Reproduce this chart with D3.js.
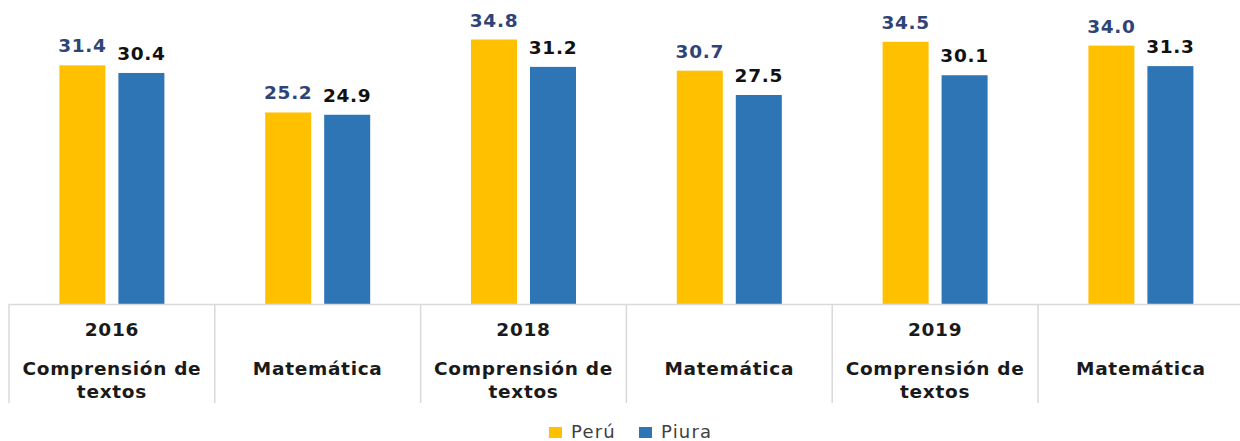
<!DOCTYPE html>
<html>
<head>
<meta charset="utf-8">
<script src="https://cdn.jsdelivr.net/npm/d3@7"></script>
<style>
  body { margin: 0; background: #fff; }
  svg { display: block; font-family: "DejaVu Sans", Verdana, sans-serif; }
</style>
</head>
<body>
<div id="chart"></div>
<script>
// data
var years = ["2016", "", "2018", "", "2019", ""];
var subjects = [["Comprensión de", "textos"], ["Matemática"], ["Comprensión de", "textos"], ["Matemática"], ["Comprensión de", "textos"], ["Matemática"]];
var series = ["Perú", "Piura"];
var peru = [31.4, 25.2, 34.8, 30.7, 34.5, 34.0];
var piura = [30.4, 24.9, 31.2, 27.5, 30.1, 31.3];

var colors = { "Perú": "#FFC000", "Piura": "#2E75B6" };
var labelColors = { "Perú": "#2F4476", "Piura": "#111111" };

var width = 1240, height = 441;
var baseY = 304;

var svg = d3.select("#chart").append("svg")
  .attr("width", width)
  .attr("height", height);

var groups = d3.range(years.length);

var x = d3.scaleBand()
  .domain(groups)
  .range([9, 9 + 6 * 205.8])
  .padding(0);

var xInner = d3.scaleBand()
  .domain(series)
  .range([-52.5, 52.5])
  .paddingInner(0.22);

var y = d3.scaleLinear()
  .domain([0, 40])
  .range([baseY, 0]);

var values = { "Perú": peru, "Piura": piura };

// bars
var g = svg.selectAll(".group")
  .data(groups)
  .enter()
  .append("g")
  .attr("class", "group")
  .attr("transform", function (d) {
    return "translate(" + (x(d) + x.bandwidth() / 2) + ",0)";
  });

g.selectAll("rect")
  .data(function (d) {
    return series.map(function (s) { return { s: s, v: values[s][d] }; });
  })
  .enter()
  .append("rect")
  .attr("x", function (d) { return xInner(d.s); })
  .attr("width", xInner.bandwidth())
  .attr("y", function (d) { return y(d.v); })
  .attr("height", function (d) { return baseY - y(d.v); })
  .attr("fill", function (d) { return colors[d.s]; });

g.selectAll(".val")
  .data(function (d) {
    return series.map(function (s) { return { s: s, v: values[s][d] }; });
  })
  .enter()
  .append("text")
  .attr("class", "val")
  .attr("x", function (d) { return xInner(d.s) + xInner.bandwidth() / 2; })
  .attr("y", function (d) { return y(d.v) - 13; })
  .attr("text-anchor", "middle")
  .attr("font-size", "18.5px")
  .attr("font-weight", "bold")
  .attr("letter-spacing", "0.7px")
  .attr("fill", function (d) { return labelColors[d.s]; })
  .text(function (d) { return d.v.toFixed(1); });

// axis line and category separators
svg.append("line")
  .attr("x1", x.range()[0]).attr("x2", width)
  .attr("y1", baseY + 0.5).attr("y2", baseY + 0.5)
  .attr("stroke", "#D9D9D9")
  .attr("stroke-width", 1.5);

svg.selectAll(".sep")
  .data(groups.concat([groups.length]))
  .enter()
  .append("line")
  .attr("class", "sep")
  .attr("x1", function (d) { return x.range()[0] + d * x.step(); })
  .attr("x2", function (d) { return x.range()[0] + d * x.step(); })
  .attr("y1", baseY)
  .attr("y2", 403)
  .attr("stroke", "#D9D9D9")
  .attr("stroke-width", 1.5);

// category labels
var cat = svg.selectAll(".cat")
  .data(groups)
  .enter()
  .append("g")
  .attr("class", "cat")
  .attr("transform", function (d) {
    return "translate(" + (x(d) + x.bandwidth() / 2) + ",0)";
  })
  .attr("font-size", "18.5px")
  .attr("font-weight", "bold")
  .attr("letter-spacing", "0.7px")
  .attr("fill", "#1a1a1a")
  .attr("text-anchor", "middle");

cat.append("text")
  .attr("y", 336)
  .text(function (d) { return years[d]; });

cat.each(function (d) {
  var sel = d3.select(this);
  subjects[d].forEach(function (line, i) {
    sel.append("text")
      .attr("y", 375 + i * 23)
      .text(line);
  });
});

// legend
var legendX = [549, 639];
var legend = svg.selectAll(".legend")
  .data(series)
  .enter()
  .append("g")
  .attr("class", "legend")
  .attr("transform", function (d, i) { return "translate(" + legendX[i] + ",0)"; });

legend.append("rect")
  .attr("x", 0)
  .attr("y", 427)
  .attr("width", 13)
  .attr("height", 11)
  .attr("fill", function (d) { return colors[d]; });

legend.append("text")
  .attr("x", 22)
  .attr("y", 438)
  .attr("font-size", "18px")
  .attr("letter-spacing", "1.2px")
  .attr("fill", "#404040")
  .text(function (d) { return d; });
</script>
</body>
</html>
